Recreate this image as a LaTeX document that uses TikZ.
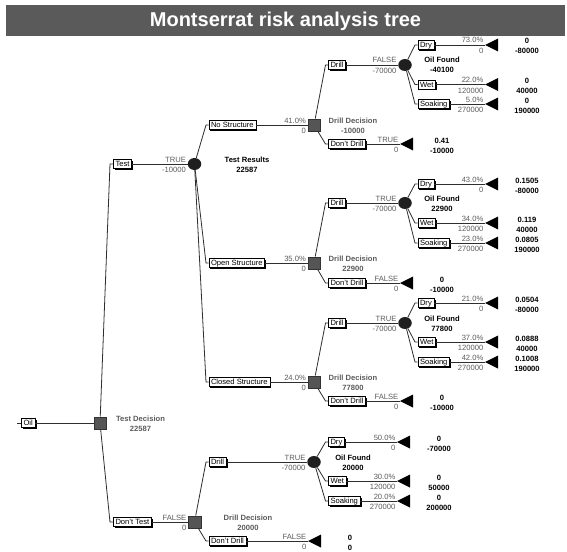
\documentclass[tikz,border=0pt]{standalone}
\usepackage{fontspec}
\setmainfont{Liberation Sans}
\usetikzlibrary{shadows,shapes.geometric}

\definecolor{titlegray}{HTML}{5A5A5A}
\definecolor{decfill}{HTML}{555555}
\definecolor{lblgray}{HTML}{5C5C5C}
\definecolor{linegray}{HTML}{2E2E2E}

\newcommand\sm{\fontsize{7.6}{8}\selectfont}

% probability / value written above and below the end of a branch line
\newcommand\brlab[3]{\path (#1) node[toplbl]{#2} node[botlbl]{#3};}
% payoff columns to the right of an end triangle
\newcommand\termlab[3]{\path (#1) ++(42,-1) node[tval]{#2} ++(0,10) node[tval]{#3};}
% outcome branch: name, parent, bend x, y, box text, triangle x, top label, bottom label
\newcommand\outcome[8]{%
  \coordinate (#1k) at (#3,#4);
  \node[box] (#1b) at ([xshift=2.5pt]#1k) {#5};
  \draw[br] (#2) -- (#1k) -- (#1b.west);
  \coordinate (#1t) at (#6,#4);
  \draw[br] (#1b.east) -- (#1t);
  \fill[black] (#1t) -- ++(13,-6.5) -- ++(0,13) -- cycle;
  \brlab{#1t}{#7}{#8}}

\begin{document}
\begin{tikzpicture}[x=1pt,y=-1pt,
  br/.style={draw=linegray, line width=0.8pt},
  box/.style={draw=black, line width=0.6pt, fill=white, font=\sm, anchor=west,
    inner xsep=2.2pt, inner ysep=1.2pt, text height=5.6pt, text depth=0.6pt,
    drop shadow={shadow xshift=1.6pt, shadow yshift=-1.6pt, fill=black, opacity=1}},
  dec/.style={rectangle, draw=black!80, line width=0.5pt, fill=decfill,
    minimum size=12.5pt, inner sep=0pt},
  chance/.style={ellipse, fill=black!88, minimum width=13.5pt, minimum height=12pt, inner sep=0pt},
  toplbl/.style={font=\sm, text=lblgray, anchor=base east, inner sep=0pt, xshift=-1.5pt, yshift=2pt},
  botlbl/.style={font=\sm, text=lblgray, anchor=base east, inner sep=0pt, xshift=-1.5pt, yshift=-8.5pt},
  dname/.style={font=\sm\bfseries, text=lblgray, anchor=base, inner sep=0pt},
  cname/.style={font=\sm\bfseries, text=black, anchor=base, inner sep=0pt},
  tval/.style={font=\sm\bfseries, text=black, anchor=base, inner sep=0pt}]

\useasboundingbox (0,0) rectangle (567,551);
\fill[white] (0,0) rectangle (567,551);

% title bar
\fill[titlegray] (6,5) rectangle (565,36);
\node[font=\fontsize{20}{22}\selectfont\bfseries, text=white] (title) at (285.5,21) {Montserrat risk analysis tree};

% root decision
\coordinate (stub) at (17,423);
\node[box] (oil) at (21,423) {Oil};
\draw[br] (stub) -- (oil.west);
\node[dec] (td) at (100,423) {};
\draw[br] (oil.east) -- (td);
\node[dname] at (140.5,421) {Test Decision};
\node[dname] at (140.5,431) {22587};

% ---- Test branch ----
\coordinate (kT) at (110,164);
\node[box] (test) at (113,164) {Test};
\draw[br] (td) -- (kT) -- (test.west);
\node[chance] (tr) at (194.5,164) {};
\draw[br] (test.east) -- (tr);
\brlab{tr.west}{TRUE}{-10000}
\node[cname] at (247,162) {Test Results};
\node[cname] at (247,172) {22587};

% No Structure
\coordinate (kN) at (206,125);
\node[box] (nos) at (208.5,125) {No Structure};
\draw[br] (tr) -- (kN) -- (nos.west);
\node[dec] (dd1) at (314,125) {};
\draw[br] (nos.east) -- (dd1);
\brlab{dd1.west}{41.0\%}{0}
\node[dname] at (353,123) {Drill Decision};
\node[dname] at (353,133) {-10000};

\coordinate (kD1) at (325.5,65);
\node[box] (dr1) at (328,65) {Drill};
\draw[br] (dd1) -- (kD1) -- (dr1.west);
\node[chance] (of1) at (405,65) {};
\draw[br] (dr1.east) -- (of1);
\brlab{of1.west}{FALSE}{-70000}
\node[cname] at (442,63) {Oil Found};
\node[cname] at (442,73) {-40100};

\outcome{a1}{of1}{415}{45}{Dry}{485}{73.0\%}{0}
\termlab{a1t}{0}{-80000}
\outcome{a2}{of1}{415}{84.5}{Wet}{485}{22.0\%}{120000}
\termlab{a2t}{0}{40000}
\outcome{a3}{of1}{415}{104}{Soaking}{485}{5.0\%}{270000}
\termlab{a3t}{0}{190000}
\outcome{a4}{dd1}{325.5}{144}{Don't Drill}{400}{TRUE}{0}
\termlab{a4t}{0.41}{-10000}

% Open Structure
\coordinate (kO) at (206,263);
\node[box] (ops) at (208.5,263) {Open Structure};
\draw[br] (tr) -- (kO) -- (ops.west);
\node[dec] (dd2) at (314,263) {};
\draw[br] (ops.east) -- (dd2);
\brlab{dd2.west}{35.0\%}{0}
\node[dname] at (353,261) {Drill Decision};
\node[dname] at (353,271) {22900};

\coordinate (kD2) at (325.5,203);
\node[box] (dr2) at (328,203) {Drill};
\draw[br] (dd2) -- (kD2) -- (dr2.west);
\node[chance] (of2) at (405,203) {};
\draw[br] (dr2.east) -- (of2);
\brlab{of2.west}{TRUE}{-70000}
\node[cname] at (442,201) {Oil Found};
\node[cname] at (442,211) {22900};

\outcome{b1}{of2}{415}{184}{Dry}{485}{43.0\%}{0}
\termlab{b1t}{0.1505}{-80000}
\outcome{b2}{of2}{415}{223}{Wet}{485}{34.0\%}{120000}
\termlab{b2t}{0.119}{40000}
\outcome{b3}{of2}{415}{243}{Soaking}{485}{23.0\%}{270000}
\termlab{b3t}{0.0805}{190000}
\outcome{b4}{dd2}{325.5}{283}{Don't Drill}{400}{FALSE}{0}
\termlab{b4t}{0}{-10000}

% Closed Structure
\coordinate (kC) at (206,382);
\node[box] (cls) at (208.5,382) {Closed Structure};
\draw[br] (tr) -- (kC) -- (cls.west);
\node[dec] (dd3) at (314,382) {};
\draw[br] (cls.east) -- (dd3);
\brlab{dd3.west}{24.0\%}{0}
\node[dname] at (353,380) {Drill Decision};
\node[dname] at (353,390) {77800};

\coordinate (kD3) at (325.5,323);
\node[box] (dr3) at (328,323) {Drill};
\draw[br] (dd3) -- (kD3) -- (dr3.west);
\node[chance] (of3) at (405,323) {};
\draw[br] (dr3.east) -- (of3);
\brlab{of3.west}{TRUE}{-70000}
\node[cname] at (442,321) {Oil Found};
\node[cname] at (442,331) {77800};

\outcome{c1}{of3}{415}{303}{Dry}{485}{21.0\%}{0}
\termlab{c1t}{0.0504}{-80000}
\outcome{c2}{of3}{415}{342}{Wet}{485}{37.0\%}{120000}
\termlab{c2t}{0.0888}{40000}
\outcome{c3}{of3}{415}{362}{Soaking}{485}{42.0\%}{270000}
\termlab{c3t}{0.1008}{190000}
\outcome{c4}{dd3}{325.5}{401}{Don't Drill}{400}{FALSE}{0}
\termlab{c4t}{0}{-10000}

% ---- Don't Test branch ----
\coordinate (kDT) at (110,522);
\node[box] (dt) at (113,522) {Don't Test};
\draw[br] (td) -- (kDT) -- (dt.west);
\node[dec] (dd4) at (194.5,522) {};
\draw[br] (dt.east) -- (dd4);
\brlab{dd4.west}{FALSE}{0}
\node[dname] at (248,520) {Drill Decision};
\node[dname] at (248,530) {20000};

\coordinate (kD4) at (206,462);
\node[box] (dr4) at (208.5,462) {Drill};
\draw[br] (dd4) -- (kD4) -- (dr4.west);
\node[chance] (of4) at (314,462) {};
\draw[br] (dr4.east) -- (of4);
\brlab{of4.west}{TRUE}{-70000}
\node[cname] at (353,460) {Oil Found};
\node[cname] at (353,470) {20000};

\outcome{e1}{of4}{325.5}{442}{Dry}{397}{50.0\%}{0}
\termlab{e1t}{0}{-70000}
\outcome{e2}{of4}{325.5}{481}{Wet}{397}{30.0\%}{120000}
\termlab{e2t}{0}{50000}
\outcome{e3}{of4}{325.5}{501}{Soaking}{397}{20.0\%}{270000}
\termlab{e3t}{0}{200000}
\outcome{e4}{dd4}{206}{541}{Don't Drill}{308}{FALSE}{0}
\termlab{e4t}{0}{0}

\end{tikzpicture}
\end{document}
